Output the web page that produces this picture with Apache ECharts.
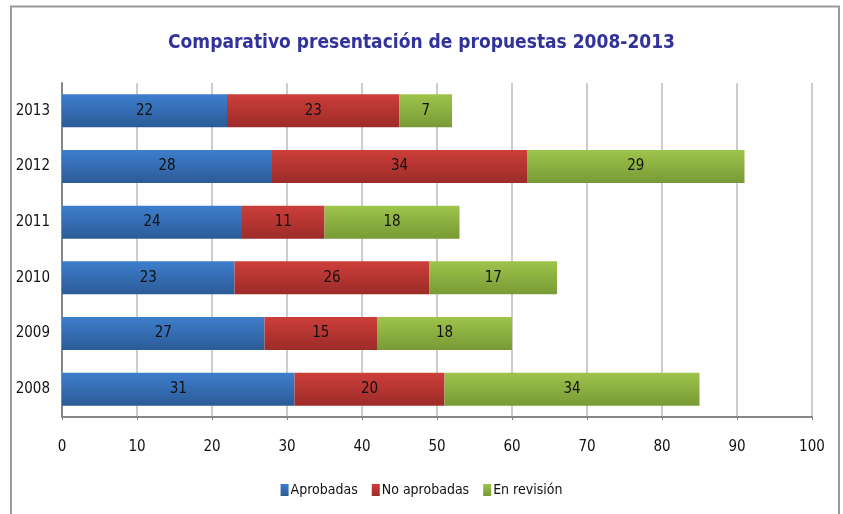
<!DOCTYPE html>
<html>
<head>
<meta charset="utf-8">
<script src="https://cdn.jsdelivr.net/npm/echarts@6/dist/echarts.min.js"></script>
<style>
  html, body { margin: 0; padding: 0; background: #fff; }
  #main { width: 843px; height: 514px; }
</style>
</head>
<body>
<div id="main"></div>
<script>
// datos
const years = ['2008', '2009', '2010', '2011', '2012', '2013'];
const aprobadas = [31, 27, 23, 24, 28, 22];
const noAprobadas = [20, 15, 26, 11, 34, 23];
const enRevision = [34, 18, 17, 18, 29, 7];
const xTicks = [0, 10, 20, 30, 40, 50, 60, 70, 80, 90, 100];

const FONT = "'Liberation Sans Narrow', 'DejaVu Sans Condensed', sans-serif";

function grad(top, bottom) {
  return new echarts.graphic.LinearGradient(0, 0, 0, 1, [
    { offset: 0, color: top },
    { offset: 1, color: bottom }
  ]);
}

function serie(name, data, top, bottom) {
  return {
    name: name,
    type: 'bar',
    stack: 'total',
    data: data,
    barWidth: 33,
    itemStyle: { color: grad(top, bottom) },
    label: {
      show: true,
      position: 'inside',
      color: '#111',
      fontFamily: FONT,
      fontSize: 15
    }
  };
}

const chart = echarts.init(document.getElementById('main'));

const option = {
  animation: false,
  backgroundColor: '#fff',
  title: {
    text: 'Comparativo presentación de propuestas 2008-2013',
    left: 'center',
    top: 29,
    textStyle: {
      color: '#31339a',
      fontFamily: FONT,
      fontWeight: 'bold',
      fontSize: 19
    }
  },
  legend: {
    bottom: 12,
    left: 'center',
    itemWidth: 8,
    itemHeight: 12,
    itemGap: 14,
    icon: 'rect',
    textStyle: { color: '#111', fontFamily: FONT, fontSize: 14, padding: [0, 0, 0, -3] },
    data: ['Aprobadas', 'No aprobadas', 'En revisión']
  },
  grid: { left: 62, right: 31, top: 83, bottom: 97, containLabel: false },
  xAxis: {
    type: 'value',
    min: 0,
    max: 100,
    interval: 10,
    axisLine: { show: true, lineStyle: { color: '#868686', width: 2 } },
    axisTick: { show: true, length: 3, lineStyle: { color: '#868686' } },
    axisLabel: {
      color: '#111',
      fontFamily: FONT,
      fontSize: 15,
      margin: 23,
      formatter: v => xTicks.includes(v) ? String(v) : ''
    },
    splitLine: { show: true, lineStyle: { color: '#bcbcbc', width: 1.5 } }
  },
  yAxis: {
    type: 'category',
    data: years,
    axisLine: { show: true, lineStyle: { color: '#868686', width: 2 } },
    axisTick: { show: false },
    axisLabel: { color: '#111', fontFamily: FONT, fontSize: 15, margin: 12 }
  },
  series: [
    serie('Aprobadas', aprobadas, '#3e7ecd', '#2b5b97'),
    serie('No aprobadas', noAprobadas, '#cd3e3a', '#9c2b28'),
    serie('En revisión', enRevision, '#9ec44b', '#789a36')
  ],
  graphic: [{
    type: 'rect',
    shape: { x: 11, y: 6.5, width: 828, height: 520 },
    style: { fill: 'none', stroke: '#9a9a9a', lineWidth: 2 },
    silent: true
  }]
};

chart.setOption(option);
</script>
</body>
</html>
